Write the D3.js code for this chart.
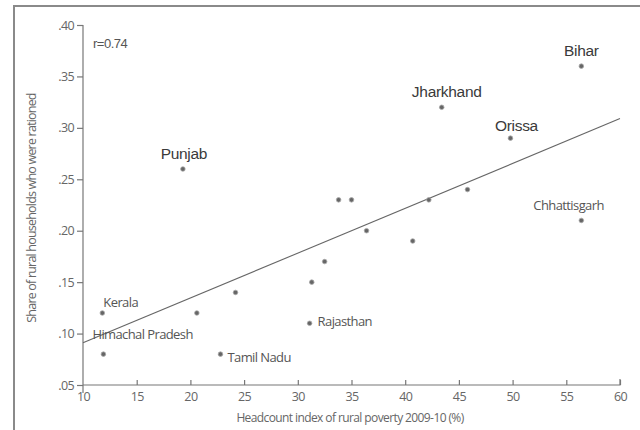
<!DOCTYPE html>
<html>
<head>
<meta charset="utf-8">
<script src="https://cdn.jsdelivr.net/npm/d3@7"></script>
<style>
  body { margin: 0; background: #fff; }
  svg { display: block; }
</style>
</head>
<body>
<svg id="chart" width="640" height="430"></svg>
<script>
// poverty headcount (%) vs share of households rationed
const states = ["Bihar", "Jharkhand", "Orissa", "Punjab", "Chhattisgarh", "", "", "", "", "", "", "", "", "Rajasthan", "", "", "Tamil Nadu", "Kerala", "Himachal Pradesh"];
const poverty = [56.4, 43.4, 49.8, 19.3, 56.4, 33.8, 35.0, 42.2, 45.8, 36.4, 40.7, 32.5, 31.3, 31.1, 24.2, 20.6, 22.8, 11.8, 11.9];
const rationed = [0.36, 0.32, 0.29, 0.26, 0.21, 0.23, 0.23, 0.23, 0.24, 0.20, 0.19, 0.17, 0.15, 0.11, 0.14, 0.12, 0.08, 0.12, 0.08];
const trendX = [10, 60];
const trendY = [0.091, 0.309];
const xTicks = [10, 15, 20, 25, 30, 35, 40, 45, 50, 55, 60];
const yTicks = [0.05, 0.10, 0.15, 0.20, 0.25, 0.30, 0.35, 0.40];

const bigLabels = ["Bihar", "Jharkhand", "Orissa", "Punjab"];

let svg = d3.select("#chart");

// outer frame
svg.append("rect")
    .attr("x", 14).attr("y", 6)
    .attr("width", 640).attr("height", 440)
    .attr("fill", "none")
    .attr("stroke", "#8a8a8a")
    .attr("stroke-width", 2);

let xScale = d3.scaleLinear().domain([10, 60]).range([83, 620]);
let yScale = d3.scaleLinear().domain([0.05, 0.40]).range([385, 25]);

let data = poverty.map((p, i) => ({ name: states[i], x: p, y: rationed[i] }));

// y axis, ticks outward
let axisY = svg.append("g")
    .attr("transform", `translate(${xScale(10)},0)`)
    .call(d3.axisLeft(yScale).tickValues(yTicks).tickSize(6).tickPadding(3)
        .tickFormat(d => d3.format(".2f")(d).replace(/^0/, "")));
axisY.select(".domain").attr("d", `M0,${yScale(0.40)}V${yScale(0.05) + 8}`);

// x axis, ticks inward
let axisX = svg.append("g")
    .attr("transform", `translate(0,${yScale(0.05)})`)
    .call(d3.axisBottom(xScale).tickValues(xTicks).tickSize(-5).tickPadding(7));
axisX.select(".domain").attr("d", `M${xScale(10)},0H${xScale(60)}V-6`);
axisX.selectAll(".tick").filter(d => d === 10).select("line").remove();

svg.selectAll(".domain, .tick line").attr("stroke", "#777").attr("stroke-width", 1.2);
svg.selectAll(".tick text")
    .attr("fill", "#666")
    .attr("font-family", "Open Sans, sans-serif")
    .attr("font-size", 12.5)
    .attr("letter-spacing", -0.6);

// axis titles
svg.append("text")
    .attr("x", 350).attr("y", 422)
    .attr("text-anchor", "middle")
    .attr("font-family", "Open Sans, sans-serif")
    .attr("font-size", 12)
    .attr("letter-spacing", -0.6)
    .attr("fill", "#666")
    .text("Headcount index of rural poverty 2009-10 (%)");

svg.append("text")
    .attr("transform", `translate(36,208) rotate(-90)`)
    .attr("text-anchor", "middle")
    .attr("font-family", "Open Sans, sans-serif")
    .attr("font-size", 12.5)
    .attr("letter-spacing", -0.8)
    .attr("fill", "#666")
    .text("Share of rural households who were rationed");

svg.append("text")
    .attr("x", 93).attr("y", 48)
    .attr("font-family", "Liberation Sans, Arial, sans-serif")
    .attr("font-size", 13)
    .attr("letter-spacing", -0.5)
    .attr("fill", "#555")
    .text("r=0.74");

// regression line
svg.append("path")
    .datum(trendX.map((x, i) => [x, trendY[i]]))
    .attr("fill", "none")
    .attr("stroke", "#666")
    .attr("stroke-width", 1.1)
    .attr("d", d3.line().x(d => xScale(d[0])).y(d => yScale(d[1])));

// points
svg.selectAll(".dot")
    .data(data)
    .join("circle")
    .attr("class", "dot")
    .attr("cx", d => xScale(d.x))
    .attr("cy", d => yScale(d.y))
    .attr("r", 2.3)
    .attr("fill", "#666")
    .attr("stroke", "#aaa")
    .attr("stroke-width", 0.8);

// labels: [dx, dy, anchor]
const labelPos = {
    "Bihar": [0, -16, "middle"],
    "Jharkhand": [5, -16, "middle"],
    "Orissa": [6, -13, "middle"],
    "Punjab": [1, -15, "middle"],
    "Chhattisgarh": [-48, -15, "start"],
    "Kerala": [1, -11, "start"],
    "Himachal Pradesh": [-11, -20, "start"],
    "Tamil Nadu": [7, 3, "start"],
    "Rajasthan": [8, -2, "start"]
};

svg.selectAll(".lbl")
    .data(data.filter(d => d.name !== ""))
    .join("text")
    .attr("class", "lbl")
    .attr("x", d => xScale(d.x) + labelPos[d.name][0])
    .attr("y", d => yScale(d.y) + labelPos[d.name][1])
    .attr("dy", "0.35em")
    .attr("text-anchor", d => labelPos[d.name][2])
    .attr("font-family", d => bigLabels.includes(d.name) ? "Liberation Sans, Arial, sans-serif" : "Open Sans, sans-serif")
    .attr("font-size", d => bigLabels.includes(d.name) ? 15.5 : 13)
    .attr("letter-spacing", d => bigLabels.includes(d.name) ? -0.3 : -0.6)
    .attr("fill", d => bigLabels.includes(d.name) ? "#3a3a3a" : "#555")
    .text(d => d.name);
</script>
</body>
</html>
